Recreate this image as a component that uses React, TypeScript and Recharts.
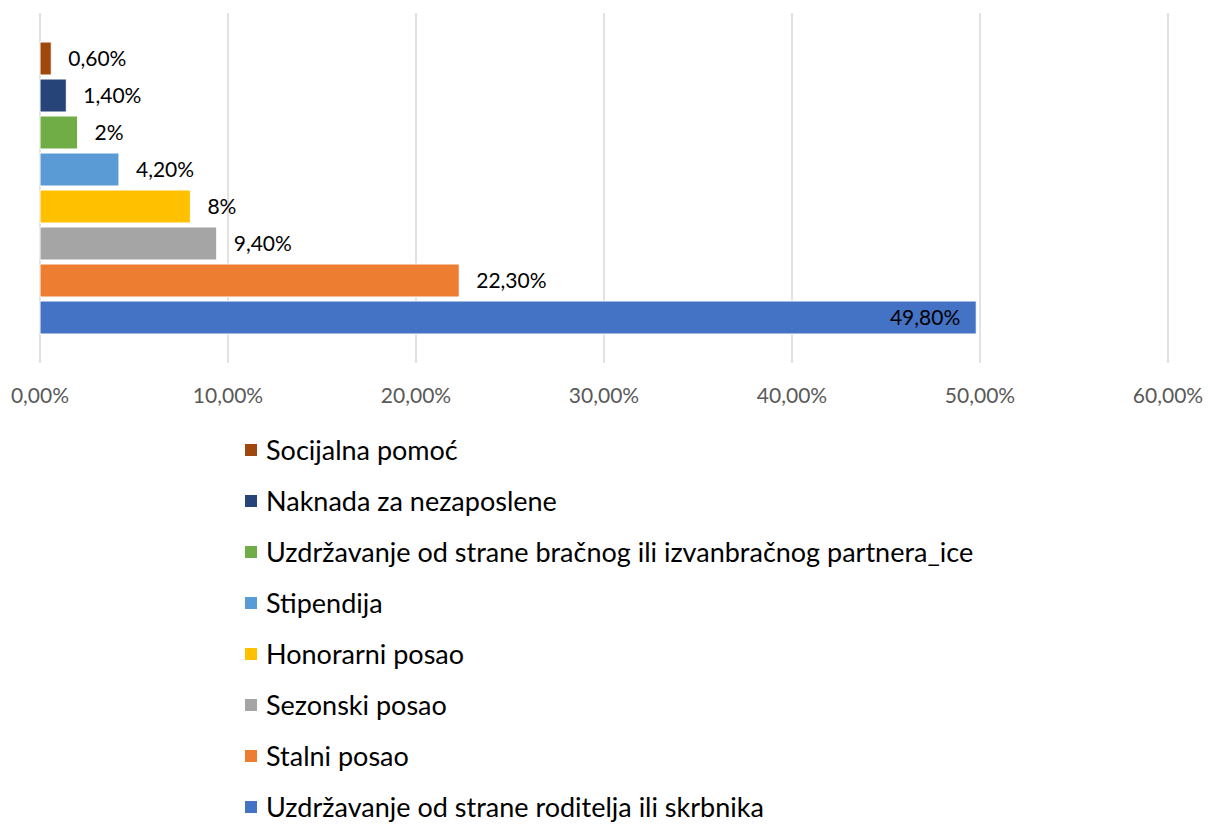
import {
  BarChart,
  Bar,
  XAxis,
  YAxis,
  CartesianGrid,
  LabelList,
} from "recharts";

// series, top to bottom as drawn
const seriesNames = [
  "Socijalna pomoć",
  "Naknada za nezaposlene",
  "Uzdržavanje od strane bračnog ili izvanbračnog partnera_ice",
  "Stipendija",
  "Honorarni posao",
  "Sezonski posao",
  "Stalni posao",
  "Uzdržavanje od strane roditelja ili skrbnika",
];
const seriesValues = [0.6, 1.4, 2, 4.2, 8, 9.4, 22.3, 49.8];
const valueLabels = ["0,60%", "1,40%", "2%", "4,20%", "8%", "9,40%", "22,30%", "49,80%"];
const xTicks = [0, 10, 20, 30, 40, 50, 60];

const COLORS = [
  "#9e480e",
  "#264478",
  "#70ad47",
  "#5b9bd5",
  "#ffc000",
  "#a5a5a5",
  "#ed7d31",
  "#4472c4",
];

const FONT = "Lato, 'Open Sans', sans-serif";

const row: Record<string, string | number> = { name: "all" };
seriesValues.forEach((v, i) => {
  row[`s${i}`] = v;
});
const data = [row];

const fmtTick = (v: number) => `${v.toFixed(2).replace(".", ",")}%`;

export default function App() {
  return (
    <div
      style={{
        position: "absolute",
        left: 0,
        top: 0,
        width: 1208,
        height: 825,
        background: "#fff",
        fontFamily: FONT,
        overflow: "hidden",
      }}
    >
      <BarChart
        width={1208}
        height={420}
        data={data}
        layout="vertical"
        margin={{ top: 13, right: 40, bottom: 0, left: 40 }}
        barSize={33}
        barGap={4}
      >
        <CartesianGrid
          horizontal={false}
          stroke="#d9d9d9"
          strokeWidth={1.5}
        />
        <XAxis
          type="number"
          domain={[0, 60]}
          ticks={xTicks}
          tickFormatter={fmtTick}
          axisLine={false}
          tickLine={false}
          tickSize={0}
          tickMargin={25}
          height={57}
          interval={0}
          tick={{ fill: "#595959", fontSize: 21, fontFamily: FONT }}
        />
        <YAxis type="category" dataKey="name" hide />
        {seriesValues.map((_, i) => (
          <Bar
            key={i}
            dataKey={`s${i}`}
            fill={COLORS[i]}
            stroke="#ffffff"
            strokeWidth={1}
            isAnimationActive={false}
          >
            <LabelList
              dataKey={`s${i}`}
              position={i === seriesValues.length - 1 ? "insideRight" : "right"}
              offset={i === seriesValues.length - 1 ? 16 : 17}
              formatter={() => valueLabels[i]}
              fill="#000"
              style={{ fontSize: 21, fontFamily: FONT }}
            />
          </Bar>
        ))}
      </BarChart>

      <div style={{ position: "absolute", left: 245, top: 424 }}>
        {seriesNames.map((name, i) => (
          <div
            key={name}
            style={{
              height: 51,
              display: "flex",
              alignItems: "center",
              fontSize: 27,
              lineHeight: "30px",
              color: "#000",
              whiteSpace: "nowrap",
            }}
          >
            <span
              style={{
                width: 12,
                height: 12,
                background: COLORS[i],
                marginRight: 9,
                display: "inline-block",
              }}
            />
            {name}
          </div>
        ))}
      </div>
    </div>
  );
}
